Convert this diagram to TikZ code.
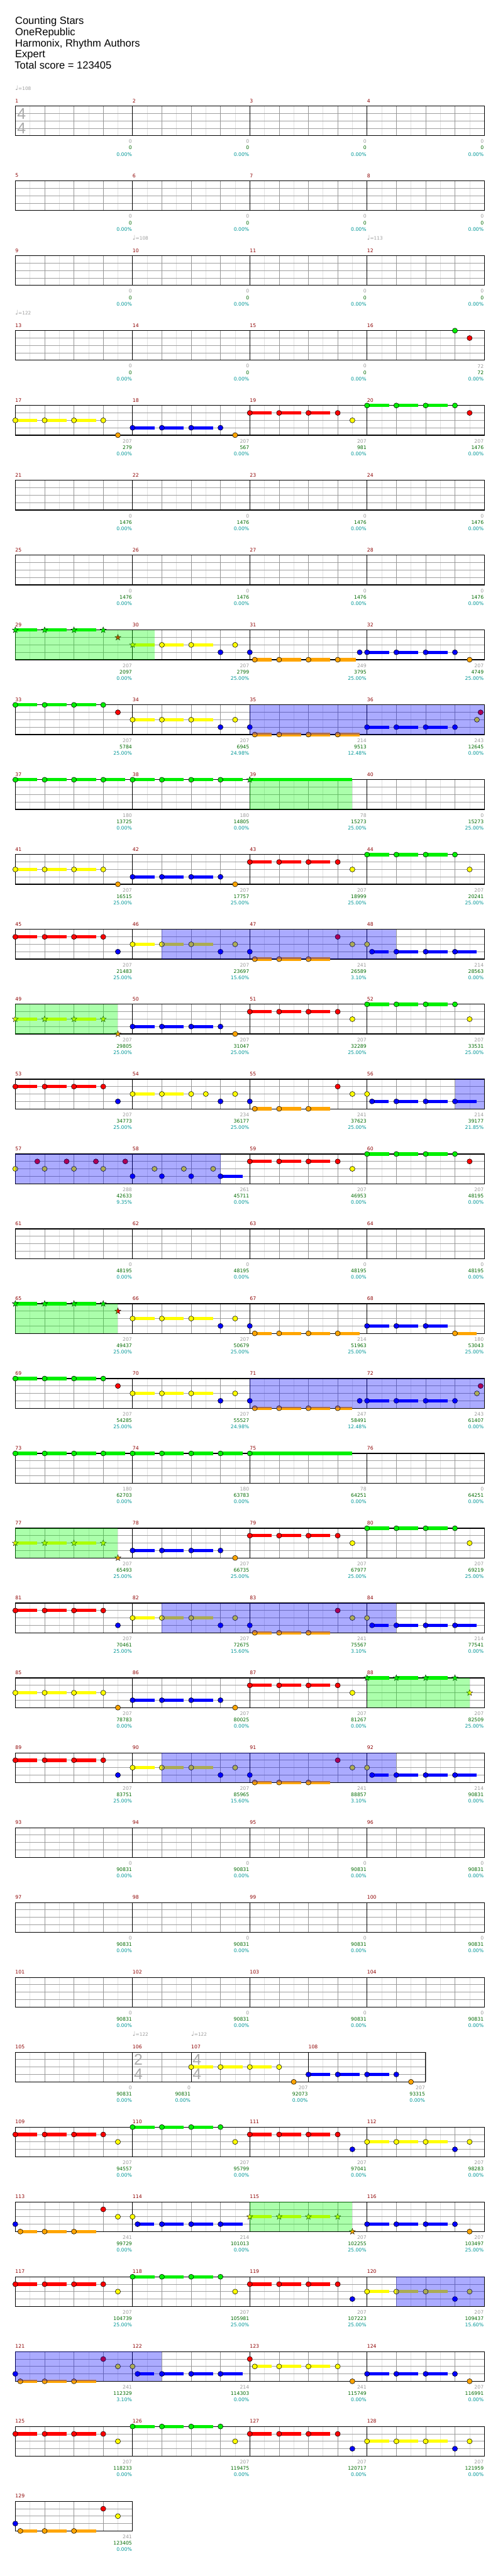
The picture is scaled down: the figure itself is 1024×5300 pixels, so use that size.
\documentclass[tikz,border=0pt]{standalone}
\usepackage{fontspec}
\setmainfont{DejaVu Sans}
\newfontfamily\headfont{Liberation Sans}
\usetikzlibrary{shapes.geometric}

\definecolor{lane0}{RGB}{0,240,0}
\definecolor{lane1}{RGB}{255,0,0}
\definecolor{lane2}{RGB}{255,255,0}
\definecolor{lane3}{RGB}{0,0,255}
\definecolor{lane4}{RGB}{255,165,0}
\definecolor{odgreen}{RGB}{0,255,0}
\definecolor{soloblue}{RGB}{0,0,255}
\definecolor{barred}{RGB}{140,0,0}
\definecolor{ptsgray}{RGB}{155,155,155}
\definecolor{totgreen}{RGB}{0,105,0}
\definecolor{pctteal}{RGB}{0,150,150}
\definecolor{tsgray}{RGB}{170,170,170}
\definecolor{eighthgray}{RGB}{225,225,225}
\definecolor{beatgray}{RGB}{150,150,150}
\definecolor{lanegray}{RGB}{160,160,160}

\newcount\starno
\newcommand{\crotchet}{{\fontsize{13}{13}\selectfont ♩}}

\tikzset{
  band/.style={shift={(31.5,{218.3+154*(#1-1)})}, x=60.3125pt, y=-1pt},
  lab/.style={inner sep=0pt, font=\fontsize{10}{12}\selectfont},
  barnum/.style={lab, anchor=west, text=barred},
  pts/.style={lab, anchor=east, xshift=-1pt, text=ptsgray},
  tot/.style={lab, anchor=east, xshift=-1pt, text=totgreen},
  pct/.style={lab, anchor=east, xshift=-1pt, text=pctteal},
  tempo/.style={lab, anchor=base west, text=ptsgray, font=\fontsize{9.5}{11}\selectfont},
  tsig/.style={inner sep=0pt, text=tsgray, font=\headfont\fontsize{32}{32}\selectfont},
  head/.style={anchor=base west, inner sep=0pt, font=\headfont\fontsize{21.4}{24}\selectfont},
  eighthline/.style={draw=eighthgray, line width=0.8pt},
  laneline/.style={draw=lanegray, line width=1.2pt},
  beatline/.style={draw=beatgray, line width=0.9pt},
  barline/.style={draw=black, line width=0.9pt},
  staffframe/.style={draw=black, line width=1.5pt},
  sustain/.style={fill=#1},
  notehead/.style={fill=#1, draw=black, line width=0.7pt},
  starnote/.style={star, star points=5, star point ratio=2.4, minimum size=13pt,
    inner sep=0pt, draw=black, line width=0.5pt, fill=#1},
  odfill/.style={fill=odgreen, opacity=0.33},
  solofill/.style={fill=soloblue, opacity=0.33},
}

% grille : nombre de temps, positions des barres
\newcommand{\staffgrid}[2]{%
  \foreach \e in {0.5,1.5,...,#1} \draw[eighthline] (\e,0) -- (\e,61);
  \foreach \l in {15.25,30.5,45.75} \draw[laneline] (0,\l) -- (#1,\l);
  \foreach \b in {1,...,#1} \draw[beatline] (\b,0) -- (\b,61);
  \foreach \m in {#2} \draw[barline] (\m,0) -- (\m,61);
  \draw[staffframe] (0,0) rectangle (#1,61);
}

% note : temps, corde, longueur tenue
\newcommand{\gem}[3]{%
  \ifdim #3pt>0pt
    \fill[sustain=lane#2] (#1,{15.25*#2-3.4}) rectangle ({#1+#3},{15.25*#2+3.4});
  \fi
  \draw[notehead=lane#2] (#1,{15.25*#2}) ellipse [x radius=5.3pt, y radius=5.2pt];
}
\newcommand{\sgem}[3]{%
  \ifdim #3pt>0pt
    \fill[sustain=lane#2] (#1,{15.25*#2-3.4}) rectangle ({#1+#3},{15.25*#2+3.4});
  \fi
  \global\advance\starno by 1
  \node[starnote=lane#2] (star\the\starno) at (#1,{15.25*#2}) {};
}

% motifs qui reviennent
\newcommand{\riff}[4]{%
  \foreach \k in {0,1,2} {\gem{#1+\k}{#2}{0.75}}
  \gem{#1+3}{#3}{0}\gem{#1+3.5}{#4}{0}}
\newcommand{\sriff}[3]{%
  \foreach \k in {0,1,2} {\sgem{#1+\k}{#2}{0.75}}
  \sgem{#1+3}{#2}{0}\sgem{#1+3.5}{#3}{0}}
\newcommand{\lowriff}[1]{\gem{#1}{3}{0}\gem{#1+0.17}{4}{0.57}\gem{#1+1}{4}{0.75}\gem{#1+2}{4}{0.75}}
\newcommand{\blueriff}[1]{\gem{#1}{2}{0}\gem{#1+0.17}{3}{0.57}\gem{#1+1}{3}{0.75}\gem{#1+2}{3}{0.75}\gem{#1+3}{3}{0.75}}

\newcommand{\odzone}[2]{\fill[odfill] (#1,0) rectangle (#2,61);}
\newcommand{\solozone}[2]{\fill[solofill] (#1,0) rectangle (#2,61);}

% chiffres sous une mesure
\newcommand{\barscore}[6]{%
  \node[barnum] (num#1) at (#2,-11) {#1};
  \node[pts] (pts#1) at (#3,73) {#4};
  \node[tot] (tot#1) at (#3,86) {#5};
  \node[pct] (pct#1) at (#3,99) {#6\%};}
\newcommand{\rowscores}[2]{%
  \foreach \ptsv/\totv/\pctv [count=\i from 0] in {#2} {
    \pgfmathtruncatemacro\barno{#1+\i}
    \pgfmathtruncatemacro\barst{4*\i}
    \pgfmathtruncatemacro\baren{4*\i+4}
    \barscore{\barno}{\barst}{\baren}{\ptsv}{\totv}{\pctv}
  }}

\begin{document}
\begin{tikzpicture}[x=1pt, y=-1pt]
  \useasboundingbox (0,0) rectangle (1024,5300);

  % En-tete
  \node[head] (title) at (31,50.1) {Counting Stars};
  \node[head] (artist) at (31,73) {OneRepublic};
  \node[head] (authors) at (31,95.9) {Harmonix, Rhythm Authors};
  \node[head] (level) at (31,118.8) {Expert};
  \node[head] (total) at (30,141.7) {Total score = 123405};

  % Lignes vides
  \foreach \rowv/\firstv/\basev in {2/5/0,3/9/0,6/21/1476,7/25/1476,16/61/48195,24/93/90831,25/97/90831,26/101/90831} {
    \begin{scope}[band=\rowv]
      \staffgrid{16}{4,8,12}
      \rowscores{\firstv}{0/\basev/0.00,0/\basev/0.00,0/\basev/0.00,0/\basev/0.00}
    \end{scope}
  }

  % Mesures 1-4
  \begin{scope}[band=1]
    \staffgrid{16}{4,8,12}
    \node[tempo] (tempo1) at (0,-33) {\crotchet=108};
    \node[tsig] (tsig1a) at (0.21,15.5) {4};
    \node[tsig] (tsig1b) at (0.21,45.5) {4};
    \rowscores{1}{0/0/0.00,0/0/0.00,0/0/0.00,0/0/0.00}
  \end{scope}

  % Tempos de la ligne 9-12
  \begin{scope}[band=3]
    \node[tempo] (tempo10) at (4,-33) {\crotchet=108};
    \node[tempo] (tempo12) at (12,-33) {\crotchet=113};
  \end{scope}

  % Mesures 13-16
  \begin{scope}[band=4]
    \staffgrid{16}{4,8,12}
    \node[tempo] (tempo13) at (0,-33) {\crotchet=122};
    \gem{15}{0}{0}\gem{15.5}{1}{0}
    \rowscores{13}{0/0/0.00,0/0/0.00,0/0/0.00,72/72/0.00}
  \end{scope}

  % Mesures 17-20
  \begin{scope}[band=5]
    \staffgrid{16}{4,8,12}
    \riff{0}{2}{2}{4}\riff{4}{3}{3}{4}\riff{8}{1}{1}{2}\riff{12}{0}{0}{1}
    \rowscores{17}{207/279/0.00,207/567/0.00,207/981/0.00,207/1476/0.00}
  \end{scope}

  % Mesures 29-32
  \begin{scope}[band=8]
    \staffgrid{16}{4,8,12}
    \sriff{0}{0}{1}
    \sgem{4}{2}{0.75}\gem{5}{2}{0.75}\gem{6}{2}{0.75}\gem{7}{3}{0}\gem{7.5}{2}{0}
    \lowriff{8}\gem{11}{4}{0.62}\gem{11.75}{3}{0}
    \riff{12}{3}{3}{4}
    \odzone{0}{4.75}
    \rowscores{29}{207/2097/0.00,207/2799/25.00,249/3795/25.00,207/4749/25.00}
  \end{scope}

  % Mesures 33-36
  \begin{scope}[band=9]
    \staffgrid{16}{4,8,12}
    \riff{0}{0}{0}{1}\riff{4}{2}{3}{2}
    \lowriff{8}\gem{11}{4}{0.75}
    \foreach \k in {12,13,14} {\gem{\k}{3}{0.75}}
    \gem{15}{3}{0}\gem{15.75}{2}{0}\gem{15.875}{1}{0}
    \solozone{8}{16}
    \rowscores{33}{207/5784/25.00,207/6945/24.98,214/9513/12.48,243/12645/0.00}
  \end{scope}

  % Mesures 37-40
  \begin{scope}[band=10]
    \staffgrid{16}{4,8,12}
    \foreach \k in {0,...,7} {\gem{\k}{0}{0.75}}
    \sgem{8}{0}{3.5}
    \odzone{8}{11.5}
    \rowscores{37}{180/13725/0.00,180/14805/0.00,78/15273/25.00,0/15273/25.00}
  \end{scope}

  % Mesures 41-44
  \begin{scope}[band=11]
    \staffgrid{16}{4,8,12}
    \riff{0}{2}{2}{4}\riff{4}{3}{3}{4}\riff{8}{1}{1}{2}\riff{12}{0}{0}{2}
    \rowscores{41}{207/16515/25.00,207/17757/25.00,207/18999/25.00,207/20241/25.00}
  \end{scope}

  % Mesures 45-48
  \begin{scope}[band=12]
    \staffgrid{16}{4,8,12}
    \riff{0}{1}{1}{3}\riff{4}{2}{3}{2}
    \lowriff{8}\gem{11}{1}{0}\gem{11.5}{2}{0}
    \blueriff{12}
    \solozone{5}{13}
    \rowscores{45}{207/21483/25.00,207/23697/15.60,241/26589/3.10,214/28563/0.00}
  \end{scope}

  % Mesures 49-52
  \begin{scope}[band=13]
    \staffgrid{16}{4,8,12}
    \sriff{0}{2}{4}\riff{4}{3}{3}{4}\riff{8}{1}{1}{2}\riff{12}{0}{0}{2}
    \odzone{0}{3.5}
    \rowscores{49}{207/29805/25.00,207/31047/25.00,207/32289/25.00,207/33531/25.00}
  \end{scope}

  % Mesures 53-56
  \begin{scope}[band=14]
    \staffgrid{16}{4,8,12}
    \riff{0}{1}{1}{3}
    \gem{4}{2}{0.75}\gem{5}{2}{0.75}\gem{6}{2}{0}\gem{6.5}{2}{0}\gem{7}{3}{0}\gem{7.5}{2}{0}
    \lowriff{8}\gem{11}{1}{0}\gem{11.5}{2}{0}
    \blueriff{12}
    \solozone{15}{16}
    \rowscores{53}{207/34773/25.00,234/36177/25.00,241/37623/25.00,214/39177/21.85}
  \end{scope}

  % Mesures 57-60
  \begin{scope}[band=15]
    \staffgrid{16}{4,8,12}
    \foreach \k in {0,1,2,3} {\gem{\k}{2}{0}\gem{\k+0.75}{1}{0}}
    \foreach \k in {4,5,6} {\gem{\k}{3}{0}\gem{\k+0.75}{2}{0}}
    \gem{7}{3}{0.75}
    \riff{8}{1}{1}{2}\riff{12}{0}{0}{1}
    \solozone{0}{7}
    \rowscores{57}{288/42633/9.35,261/45711/0.00,207/46953/0.00,207/48195/0.00}
  \end{scope}

  % Mesures 65-68
  \begin{scope}[band=17]
    \staffgrid{16}{4,8,12}
    \sriff{0}{0}{1}\riff{4}{2}{3}{2}
    \lowriff{8}\gem{11}{4}{0.75}
    \foreach \k in {12,13,14} {\gem{\k}{3}{0.75}}
    \gem{15}{4}{0.75}
    \odzone{0}{3.5}
    \rowscores{65}{207/49437/25.00,207/50679/25.00,214/51963/25.00,180/53043/25.00}
  \end{scope}

  % Mesures 69-72
  \begin{scope}[band=18]
    \staffgrid{16}{4,8,12}
    \riff{0}{0}{0}{1}\riff{4}{2}{3}{2}
    \lowriff{8}\gem{11}{4}{0.5}\gem{11.75}{3}{0}
    \foreach \k in {12,13,14} {\gem{\k}{3}{0.75}}
    \gem{15}{3}{0}\gem{15.75}{2}{0}\gem{15.875}{1}{0}
    \solozone{8}{16}
    \rowscores{69}{207/54285/25.00,207/55527/24.98,247/58491/12.48,243/61407/0.00}
  \end{scope}

  % Mesures 73-76
  \begin{scope}[band=19]
    \staffgrid{16}{4,8,12}
    \foreach \k in {0,...,7} {\gem{\k}{0}{0.75}}
    \gem{8}{0}{3.5}
    \rowscores{73}{180/62703/0.00,180/63783/0.00,78/64251/0.00,0/64251/0.00}
  \end{scope}

  % Mesures 77-80
  \begin{scope}[band=20]
    \staffgrid{16}{4,8,12}
    \sriff{0}{2}{4}\riff{4}{3}{3}{4}\riff{8}{1}{1}{2}\riff{12}{0}{0}{2}
    \odzone{0}{3.5}
    \rowscores{77}{207/65493/25.00,207/66735/25.00,207/67977/25.00,207/69219/25.00}
  \end{scope}

  % Mesures 81-84
  \begin{scope}[band=21]
    \staffgrid{16}{4,8,12}
    \riff{0}{1}{1}{3}\riff{4}{2}{3}{2}
    \lowriff{8}\gem{11}{1}{0}\gem{11.5}{2}{0}
    \blueriff{12}
    \solozone{5}{13}
    \rowscores{81}{207/70461/25.00,207/72675/15.60,241/75567/3.10,214/77541/0.00}
  \end{scope}

  % Mesures 85-88
  \begin{scope}[band=22]
    \staffgrid{16}{4,8,12}
    \riff{0}{2}{2}{4}\riff{4}{3}{3}{4}\riff{8}{1}{1}{2}\sriff{12}{0}{2}
    \odzone{12}{15.5}
    \rowscores{85}{207/78783/0.00,207/80025/0.00,207/81267/0.00,207/82509/25.00}
  \end{scope}

  % Mesures 89-92
  \begin{scope}[band=23]
    \staffgrid{16}{4,8,12}
    \riff{0}{1}{1}{3}\riff{4}{2}{3}{2}
    \lowriff{8}\gem{11}{1}{0}\gem{11.5}{2}{0}
    \blueriff{12}
    \solozone{5}{13}
    \rowscores{89}{207/83751/25.00,207/85965/15.60,241/88857/3.10,214/90831/0.00}
  \end{scope}

  % Mesures 105-108 (une mesure a 2/4)
  \begin{scope}[band=27]
    \staffgrid{14}{4,6,10}
    \node[tempo] (tempo106) at (4,-33) {\crotchet=122};
    \node[tempo] (tempo107) at (6,-33) {\crotchet=122};
    \node[tsig] (tsig106a) at (4.2,15.5) {2};
    \node[tsig] (tsig106b) at (4.2,45.5) {4};
    \node[tsig] (tsig107a) at (6.2,15.5) {4};
    \node[tsig] (tsig107b) at (6.2,45.5) {4};
    \riff{6}{2}{2}{4}\riff{10}{3}{3}{4}
    \barscore{105}{0}{4}{0}{90831}{0.00}
    \barscore{106}{4}{6}{0}{90831}{0.00}
    \barscore{107}{6}{10}{207}{92073}{0.00}
    \barscore{108}{10}{14}{207}{93315}{0.00}
  \end{scope}

  % Mesures 109-112
  \begin{scope}[band=28]
    \staffgrid{16}{4,8,12}
    \riff{0}{1}{1}{2}\riff{4}{0}{0}{2}\riff{8}{1}{1}{3}\riff{12}{2}{3}{2}
    \rowscores{109}{207/94557/0.00,207/95799/0.00,207/97041/0.00,207/98283/0.00}
  \end{scope}

  % Mesures 113-116
  \begin{scope}[band=29]
    \staffgrid{16}{4,8,12}
    \lowriff{0}\gem{3}{1}{0}\gem{3.5}{2}{0}
    \blueriff{4}
    \sriff{8}{2}{4}\riff{12}{3}{3}{4}
    \odzone{8}{11.5}
    \rowscores{113}{241/99729/0.00,214/101013/0.00,207/102255/25.00,207/103497/25.00}
  \end{scope}

  % Mesures 117-120
  \begin{scope}[band=30]
    \staffgrid{16}{4,8,12}
    \riff{0}{1}{1}{2}\riff{4}{0}{0}{2}\riff{8}{1}{1}{3}\riff{12}{2}{3}{2}
    \solozone{13}{16}
    \rowscores{117}{207/104739/25.00,207/105981/25.00,207/107223/25.00,207/109437/15.60}
  \end{scope}

  % Mesures 121-124
  \begin{scope}[band=31]
    \staffgrid{16}{4,8,12}
    \lowriff{0}\gem{3}{1}{0}\gem{3.5}{2}{0}
    \blueriff{4}
    \gem{8}{1}{0}\gem{8.17}{2}{0.57}\gem{9}{2}{0.75}\gem{10}{2}{0.75}\gem{11}{2}{0}\gem{11.5}{4}{0}
    \riff{12}{3}{3}{4}
    \solozone{0}{5}
    \rowscores{121}{241/112329/3.10,214/114303/0.00,241/115749/0.00,207/116991/0.00}
  \end{scope}

  % Mesures 125-128
  \begin{scope}[band=32]
    \staffgrid{16}{4,8,12}
    \riff{0}{1}{1}{2}\riff{4}{0}{0}{2}\riff{8}{1}{1}{3}\riff{12}{2}{3}{2}
    \rowscores{125}{207/118233/0.00,207/119475/0.00,207/120717/0.00,207/121959/0.00}
  \end{scope}

  % Mesure 129
  \begin{scope}[band=33]
    \staffgrid{4}{0}
    \lowriff{0}\gem{3}{1}{0}\gem{3.5}{2}{0}
    \barscore{129}{0}{4}{241}{123405}{0.00}
  \end{scope}

\end{tikzpicture}
\end{document}
